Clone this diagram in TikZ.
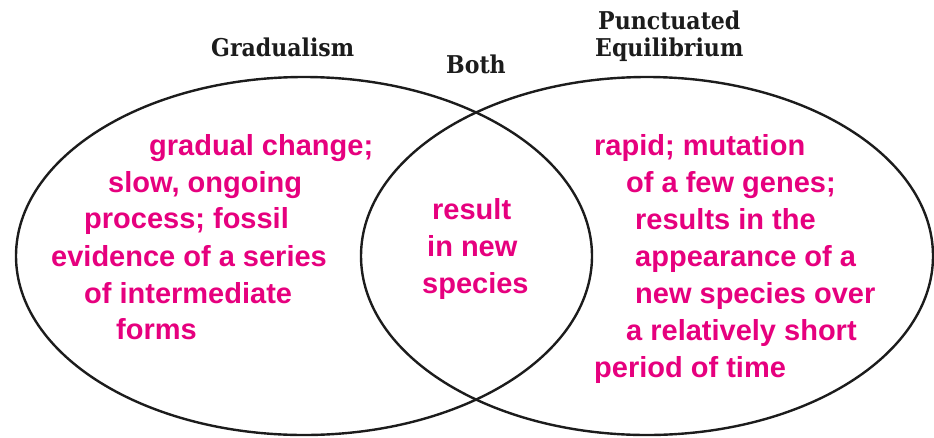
\documentclass[tikz,border=0pt]{standalone}
\usepackage{fontspec}
\setmainfont{Liberation Sans}
\newfontfamily\titlefont{DejaVu Serif Condensed}
\definecolor{pinktext}{RGB}{230,0,126}
\definecolor{inkline}{RGB}{28,28,28}
\begin{document}
\begin{tikzpicture}[x=1pt,y=-1pt,
  ring/.style={draw=inkline,line width=2.4pt},
  heading/.style={font=\titlefont\bfseries\fontsize{24.5}{28}\selectfont,text=inkline,inner sep=0pt,anchor=base west},
  entry/.style={font=\bfseries\fontsize{29}{35}\selectfont,text=pinktext,inner sep=0pt,anchor=base west}]
\useasboundingbox (0,0) rectangle (934,437);

% the two overlapping sets
\draw[ring] (304,256) ellipse [x radius=288, y radius=179];
\draw[ring] (647,256) ellipse [x radius=286, y radius=179];

% set headings
\node[heading] (hgrad) at (211,56) {Gradualism};
\node[heading] (hboth) at (446,73) {Both};
\node[heading] (hpunc1) at (598,29) {Punctuated};
\node[heading] (hpunc2) at (595,56) {Equilibrium};

% gradualism only
\node[entry] (g1) at (149,155) {gradual change;};
\node[entry] (g2) at (108,192) {slow, ongoing};
\node[entry] (g3) at (84,228) {process; fossil};
\node[entry] (g4) at (51,266) {evidence of a series};
\node[entry] (g5) at (84,303) {of intermediate};
\node[entry] (g6) at (116,339) {forms};

% shared by both
\node[entry] (b1) at (432,219) {result};
\node[entry] (b2) at (427,256) {in new};
\node[entry] (b3) at (422,293) {species};

% punctuated equilibrium only
\node[entry] (p1) at (594,155) {rapid; mutation};
\node[entry] (p2) at (626,192) {of a few genes;};
\node[entry] (p3) at (635,229) {results in the};
\node[entry] (p4) at (635,266) {appearance of a};
\node[entry] (p5) at (635,303) {new species over};
\node[entry] (p6) at (626,340) {a relatively short};
\node[entry] (p7) at (594,377) {period of time};
\end{tikzpicture}
\end{document}
